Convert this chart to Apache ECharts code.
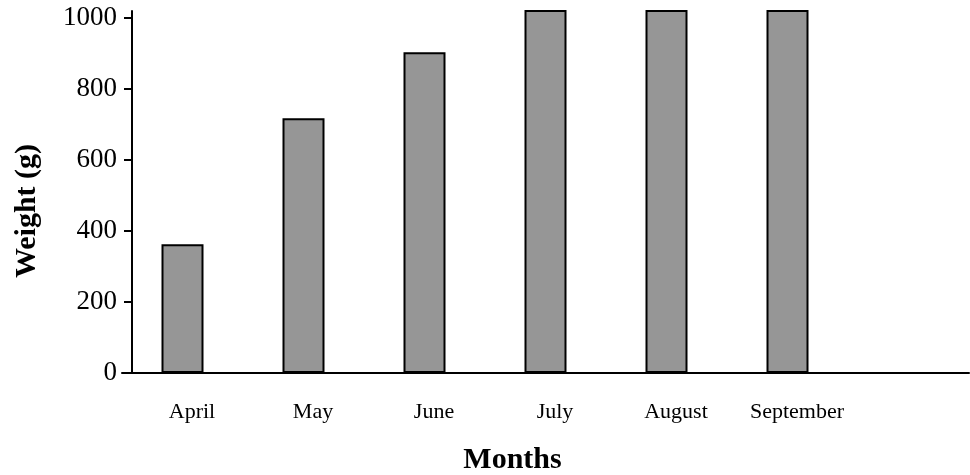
<!DOCTYPE html>
<html>
<head>
<meta charset="utf-8">
<script src="https://cdn.jsdelivr.net/npm/echarts@6/dist/echarts.min.js"></script>
<style>
html,body{margin:0;padding:0;background:#fff;}
#chart{width:970px;height:475px;}
</style>
</head>
<body>
<div id="chart"></div>
<script>
const categories = ['April', 'May', 'June', 'July', 'August', 'September', ''];
const weights = [363, 718, 904, 1060, 1140, 1200, null];
const yTicks = [0, 200, 400, 600, 800, 1000];
const xTitle = 'Months';
const yTitle = 'Weight (g)';

const chart = echarts.init(document.getElementById('chart'), null, {renderer: 'canvas'});
const serif = '"Liberation Serif", "Times New Roman", serif';
chart.setOption({
  animation: false,
  backgroundColor: '#ffffff',
  grid: {left: 122, right: 1, top: 11, bottom: 102, containLabel: false, outerBoundsMode: 'none'},
  xAxis: {
    type: 'category',
    data: categories,
    boundaryGap: true,
    axisLine: {show: true, lineStyle: {color: '#000', width: 2}},
    axisTick: {show: false},
    axisLabel: {
      color: '#000', fontFamily: serif, fontSize: 22, margin: 28,
      padding: [0, 0, 0, 19], interval: 0
    },
    name: xTitle,
    nameLocation: 'middle',
    nameGap: 72,
    nameTextStyle: {color: '#000', fontFamily: serif, fontSize: 30, fontWeight: 'bold', padding: [0, 66, 0, 0]}
  },
  yAxis: {
    type: 'value',
    min: 0,
    max: 1020,
    offset: -10,
    splitLine: {show: false},
    axisLine: {show: true, lineStyle: {color: '#000', width: 2}},
    axisTick: {show: true, length: 8, lineStyle: {color: '#000', width: 2}, customValues: yTicks},
    axisLabel: {
      color: '#000', fontFamily: serif, fontSize: 27, margin: 15, customValues: yTicks,
      formatter: function (v) { return String(v); }
    },
    name: yTitle,
    nameLocation: 'middle',
    nameGap: 90,
    nameRotate: 90,
    nameTextStyle: {color: '#000', fontFamily: serif, fontSize: 30, fontWeight: 'bold', padding: [0, 38, 0, 0]}
  },
  series: [{
    type: 'bar',
    data: weights,
    barWidth: 42,
    clip: true,
    itemStyle: {color: '#969696', borderColor: '#000', borderWidth: 2}
  }]
});
</script>
</body>
</html>
